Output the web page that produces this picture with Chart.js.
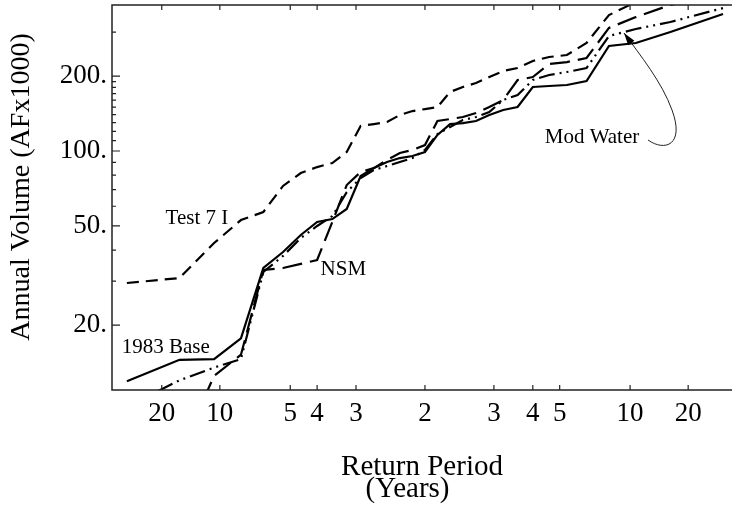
<!DOCTYPE html>
<html>
<head>
<meta charset="utf-8">
<script src="https://cdn.jsdelivr.net/npm/chart.js@4.4.0/dist/chart.umd.min.js"></script>
<style>
  html, body { margin: 0; padding: 0; background: #fff; }
  canvas { display: block; }
</style>
</head>
<body>
<canvas id="freqChart" width="732" height="512"></canvas>
<script>
// plotting positions of the 31 ranked years, as standard normal variates
const plotZ = [-1.863, -1.534, -1.318, -1.150, -1.010, -0.887, -0.776, -0.674, -0.579, -0.489,
  -0.402, -0.319, -0.237, -0.157, -0.078, 0, 0.078, 0.157, 0.237, 0.319,
  0.402, 0.489, 0.579, 0.674, 0.776, 0.887, 1.010, 1.150, 1.318, 1.534, 1.863];

// annual volumes, AF x 1000, sorted low to high
const base1983 = [11.9, 14.5, 14.6, 17.7, 33.9, 39.3, 46.0, 51.9, 53.3, 58.5,
  79.3, 85.4, 90.3, 93.7, 95.5, 99.1, 116, 128.3, 129.5, 132,
  139.5, 146.1, 150.2, 180.7, 182.4, 184.1, 191.1, 264.1, 271.5, 300.6, 355];
const test7I = [29.5, 30.9, 42.7, 52.8, 56.9, 72.4, 81.6, 86.2, 89.5, 99.1,
  126, 128.3, 130.8, 139.5, 144.7, 147.4, 150.2, 172.6, 180.7, 187.5,
  198.2, 209.5, 215.4, 229.9, 238.5, 242.9, 271.5, 351.6, 396.4, 451.4, 533];
const nsm = [5.5, 6.1, 12.5, 15.2, 33.3, 33.9, 35.2, 36.5, 51.9, 73.0,
  82.3, 85.4, 92.0, 98.2, 101, 105.7, 132, 134.4, 136.9, 142.1,
  150.2, 160.3, 192.8, 198.2, 223.5, 227.6, 236.3, 312, 345, 386, 428];
const modWater = [9.4, 12.0, 13.5, 14.6, 32.7, 37.9, 44.7, 50.0, 54.8, 68.4,
  77.9, 83.9, 87.0, 90.3, 93.7, 101, 117, 124.9, 133.2, 136.9,
  143.4, 160.3, 167.9, 192.8, 202, 207.6, 215.4, 289.7, 309, 329.7, 375];

// return period axis: dry side on the left, wet side on the right
const periodLabels = ['20', '10', '5', '4', '3', '2', '3', '4', '5', '10', '20'];
const periodZ = [-1.645, -1.282, -0.842, -0.674, -0.431, 0, 0.431, 0.674, 0.842, 1.282, 1.645];

const volumeMajor = [20, 50, 100, 200];
const volumeMinor = [30, 40, 60, 70, 80, 90, 110, 120, 130, 140, 150, 160, 170, 180, 190, 300];

const SERIF = "'Liberation Serif', 'Times New Roman', serif";
const INK = '#000';

function toPoints(values) {
  return values.map((v, i) => ({ x: plotZ[i], y: v }));
}

function lineSet(label, values, dash) {
  return {
    label,
    data: toPoints(values),
    borderColor: INK,
    borderWidth: 2.2,
    borderDash: dash,
    pointRadius: 0,
    tension: 0,
    fill: false
  };
}

// curve labels, anchored in data units (z, volume)
const curveNotes = [
  { text: 'Test 7 I', z: -1.425, v: 53.4 },
  { text: 'NSM', z: -0.51, v: 33.3 },
  { text: '1983 Base', z: -1.62, v: 16.2 },
  { text: 'Mod Water', z: 1.044, v: 113.8 }
];
// leader from the Mod Water label up to its curve
const leader = [[1.394, 110.7], [1.5, 99.1], [1.625, 105.7], [1.544, 146.1],
  [1.481, 189.3], [1.344, 243], [1.244, 297.9]];

// keep the plot box fixed: no extra room for half-height edge labels
function noEdgePad(s) {
  s.paddingTop = 0; s.paddingBottom = 0;
  s.paddingLeft = 0; s.paddingRight = 0;
}

const framePlugin = {
  id: 'frame',
  afterDatasetsDraw(chart) {
    const { ctx, chartArea: a, scales: { x, y } } = chart;
    ctx.save();
    ctx.strokeStyle = '#222';
    ctx.lineWidth = 1.5;
    ctx.setLineDash([]);
    ctx.beginPath();
    ctx.moveTo(a.right, a.top);
    ctx.lineTo(a.left, a.top);
    ctx.lineTo(a.left, a.bottom);
    ctx.lineTo(a.right, a.bottom);
    ctx.stroke();

    // inward tick marks
    ctx.lineWidth = 1.2;
    ctx.beginPath();
    x.ticks.forEach(t => {
      const px = x.getPixelForValue(t.value);
      ctx.moveTo(px, a.bottom); ctx.lineTo(px, a.bottom - 5);
      ctx.moveTo(px, a.top); ctx.lineTo(px, a.top + 5);
    });
    y.ticks.forEach(t => {
      const py = y.getPixelForValue(t.value);
      const len = volumeMajor.includes(t.value) ? 8 : 4;
      ctx.moveTo(a.left, py); ctx.lineTo(a.left + len, py);
    });
    ctx.stroke();

    // curve labels
    ctx.fillStyle = INK;
    ctx.font = '21px ' + SERIF;
    ctx.textAlign = 'center';
    ctx.textBaseline = 'middle';
    curveNotes.forEach(n => {
      ctx.fillText(n.text, x.getPixelForValue(n.z), y.getPixelForValue(n.v));
    });

    // curved leader with arrowhead
    const p = leader.map(([z, v]) => [x.getPixelForValue(z), y.getPixelForValue(v)]);
    ctx.lineWidth = 1;
    ctx.beginPath();
    ctx.moveTo(p[0][0], p[0][1]);
    ctx.bezierCurveTo(p[1][0], p[1][1], p[2][0], p[2][1], p[3][0], p[3][1]);
    ctx.bezierCurveTo(p[4][0], p[4][1], p[5][0], p[5][1], p[6][0], p[6][1]);
    ctx.stroke();
    const ang = Math.atan2(p[6][1] - p[5][1], p[6][0] - p[5][0]);
    ctx.beginPath();
    ctx.moveTo(p[6][0], p[6][1]);
    ctx.lineTo(p[6][0] - 13 * Math.cos(ang - 0.3), p[6][1] - 13 * Math.sin(ang - 0.3));
    ctx.lineTo(p[6][0] - 13 * Math.cos(ang + 0.3), p[6][1] - 13 * Math.sin(ang + 0.3));
    ctx.closePath();
    ctx.fill();
    ctx.restore();
  }
};

new Chart(document.getElementById('freqChart'), {
  type: 'line',
  data: {
    datasets: [
      lineSet('1983 Base', base1983, []),
      lineSet('Test 7 I', test7I, [12, 7]),
      lineSet('NSM', nsm, [20, 8]),
      lineSet('Mod Water', modWater, [16, 5, 2, 5, 2, 5])
    ]
  },
  options: {
    responsive: false,
    animation: false,
    layout: { padding: { top: 5, right: 0, left: 0, bottom: 0 } },
    plugins: { legend: { display: false }, tooltip: { enabled: false } },
    scales: {
      x: {
        type: 'linear',
        min: -1.956,
        max: 1.919,
        border: { display: false },
        grid: { display: false, drawTicks: false },
        afterBuildTicks: s => { s.ticks = periodZ.map(v => ({ value: v })); },
        afterFit: s => { s.height = 122; noEdgePad(s); },
        ticks: {
          autoSkip: false,
          maxRotation: 0,
          padding: 8,
          color: INK,
          font: { family: SERIF, size: 27 },
          callback: (v, i) => periodLabels[i]
        },
        title: {
          display: true,
          text: ['Return Period', '(Years)    '],
          color: INK,
          font: { family: SERIF, size: 29, lineHeight: 0.78 },
          padding: { top: 0, bottom: 11 }
        }
      },
      y: {
        type: 'logarithmic',
        min: 10.97,
        max: 385.8,
        border: { display: false },
        grid: { display: false, drawTicks: false },
        afterBuildTicks: s => {
          s.ticks = volumeMajor.concat(volumeMinor).sort((a, b) => a - b).map(v => ({ value: v }));
        },
        afterFit: s => { s.width = 112; noEdgePad(s); },
        ticks: {
          autoSkip: false,
          padding: 5,
          color: INK,
          font: { family: SERIF, size: 27 },
          callback: v => volumeMajor.includes(v) ? v + '.' : ''
        },
        title: {
          display: true,
          text: '   Annual Volume (AFx1000)',
          color: INK,
          font: { family: SERIF, size: 28 },
          padding: { top: 5, bottom: 0 }
        }
      }
    }
  },
  plugins: [framePlugin]
});
</script>
</body>
</html>
